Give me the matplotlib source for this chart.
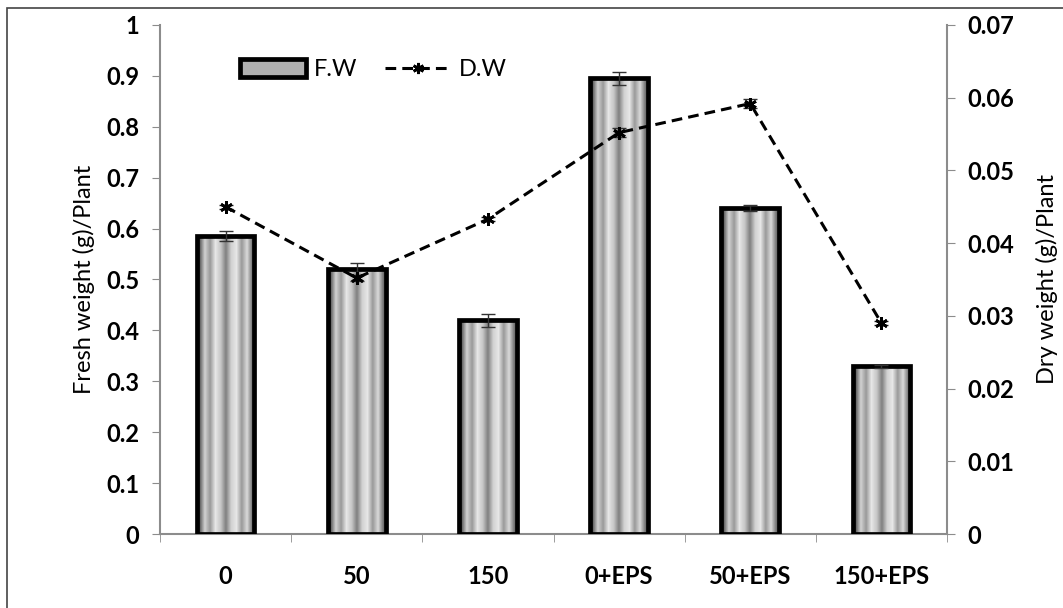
import matplotlib
matplotlib.use("Agg")
import matplotlib.pyplot as plt
import numpy as np
from matplotlib.patches import Patch, Rectangle
from matplotlib.lines import Line2D

plt.rcParams['font.family'] = ['Lato', 'DejaVu Sans']

# data
categories = ['0', '50', '150', '0+EPS', '50+EPS', '150+EPS']
fresh_weight = [0.585, 0.52, 0.42, 0.895, 0.64, 0.33]
fresh_err = [0.010, 0.012, 0.013, 0.012, 0.006, 0.003]
dry_weight = [0.045, 0.0352, 0.0433, 0.0552, 0.0592, 0.029]
dry_err = [0.0003, 0.0004, 0.0003, 0.0006, 0.0006, 0.0003]

left_ticks = [0, 0.1, 0.2, 0.3, 0.4, 0.5, 0.6, 0.7, 0.8, 0.9, 1]
left_ticklabels = ['0', '0.1', '0.2', '0.3', '0.4', '0.5', '0.6', '0.7', '0.8', '0.9', '1']
right_ticks = [0, 0.01, 0.02, 0.03, 0.04, 0.05, 0.06, 0.07]
right_ticklabels = ['0', '0.01', '0.02', '0.03', '0.04', '0.05', '0.06', '0.07']

# vertical stripe shading inside each bar
stripes = np.array([[0.35, 0.82, 0.6, 0.9, 0.78, 0.5, 0.82, 0.9, 0.6, 0.85, 0.45]])

axis_gray = '#8c8c8c'
fs = 17
fig = plt.figure(figsize=(10.63, 6.08), dpi=100)
ax = fig.add_axes([0.1505, 0.1217, 0.7404, 0.8372])

x = np.arange(len(categories))
w = 0.44
for xi, h in zip(x, fresh_weight):
    ax.imshow(stripes, extent=[xi - w / 2, xi + w / 2, 0, h], aspect='auto',
              cmap='gray', vmin=0, vmax=1, interpolation='bilinear', zorder=2)
ax.bar(x, fresh_weight, w, facecolor='none', edgecolor='black', linewidth=3.4, zorder=3)
ax.errorbar(x, fresh_weight, yerr=fresh_err, fmt='none', ecolor='#333333',
            elinewidth=1, capsize=5, capthick=1, zorder=4)

ax.set_xlim(-0.5, len(categories) - 0.5)
ax.set_ylim(0, 1)
ax.set_yticks(left_ticks)
ax.set_yticklabels(left_ticklabels)
ax.set_xticks(x)
ax.set_xticklabels(categories)
ax.set_xticks(np.arange(len(categories) + 1) - 0.5, minor=True)
ax.tick_params(axis='x', which='major', length=0, pad=22, labelsize=fs)
ax.tick_params(axis='x', which='minor', length=6, color=axis_gray, direction='out')
ax.tick_params(axis='y', length=6, color=axis_gray, direction='out', pad=9, labelsize=fs)
for lbl in ax.get_xticklabels() + ax.get_yticklabels():
    lbl.set_fontweight('bold')
for s in ['top', 'right']:
    ax.spines[s].set_visible(False)
for s in ['left', 'bottom']:
    ax.spines[s].set_color(axis_gray)
    ax.spines[s].set_linewidth(1.5)
ax.set_ylabel('Fresh weight (g)/Plant', fontsize=fs, labelpad=8)

ax2 = ax.twinx()
ax2.errorbar(x, dry_weight, yerr=dry_err, fmt='none', ecolor='#333333',
             elinewidth=1, capsize=5, capthick=1, zorder=4)
ax2.plot(x, dry_weight, color='black', linestyle=(0, (3.5, 2)), linewidth=2.2,
         marker=(6, 2, 0), markersize=9, markeredgewidth=2, zorder=5)
ax2.set_ylim(0, 0.07)
ax2.set_yticks(right_ticks)
ax2.set_yticklabels(right_ticklabels)
ax2.tick_params(axis='y', length=6, color=axis_gray, direction='out', pad=9, labelsize=fs)
for lbl in ax2.get_yticklabels():
    lbl.set_fontweight('bold')
for s in ['top', 'left', 'bottom']:
    ax2.spines[s].set_visible(False)
ax2.spines['right'].set_color(axis_gray)
ax2.spines['right'].set_linewidth(1.5)
ax2.set_ylabel('Dry weight (g)/Plant', fontsize=fs, labelpad=15)

handles = [Patch(facecolor='#b0b0b0', edgecolor='black', linewidth=3.4),
           Line2D([], [], color='black', linestyle=(0, (3.5, 2)), linewidth=2.2,
                  marker=(6, 2, 0), markersize=8, markeredgewidth=2)]
ax.legend(handles, ['F.W', 'D.W'], loc='upper left', bbox_to_anchor=(0.075, 0.975),
          ncol=2, frameon=False, fontsize=fs, handlelength=2.8, handleheight=0.8,
          columnspacing=1.2, handletextpad=0.3)

fig.patches.append(Rectangle((0.0066, -0.01), 1.1, 0.997, transform=fig.transFigure,
                             fill=False, edgecolor='#444444', linewidth=1.2))

fig.savefig('out.png', dpi=100)
